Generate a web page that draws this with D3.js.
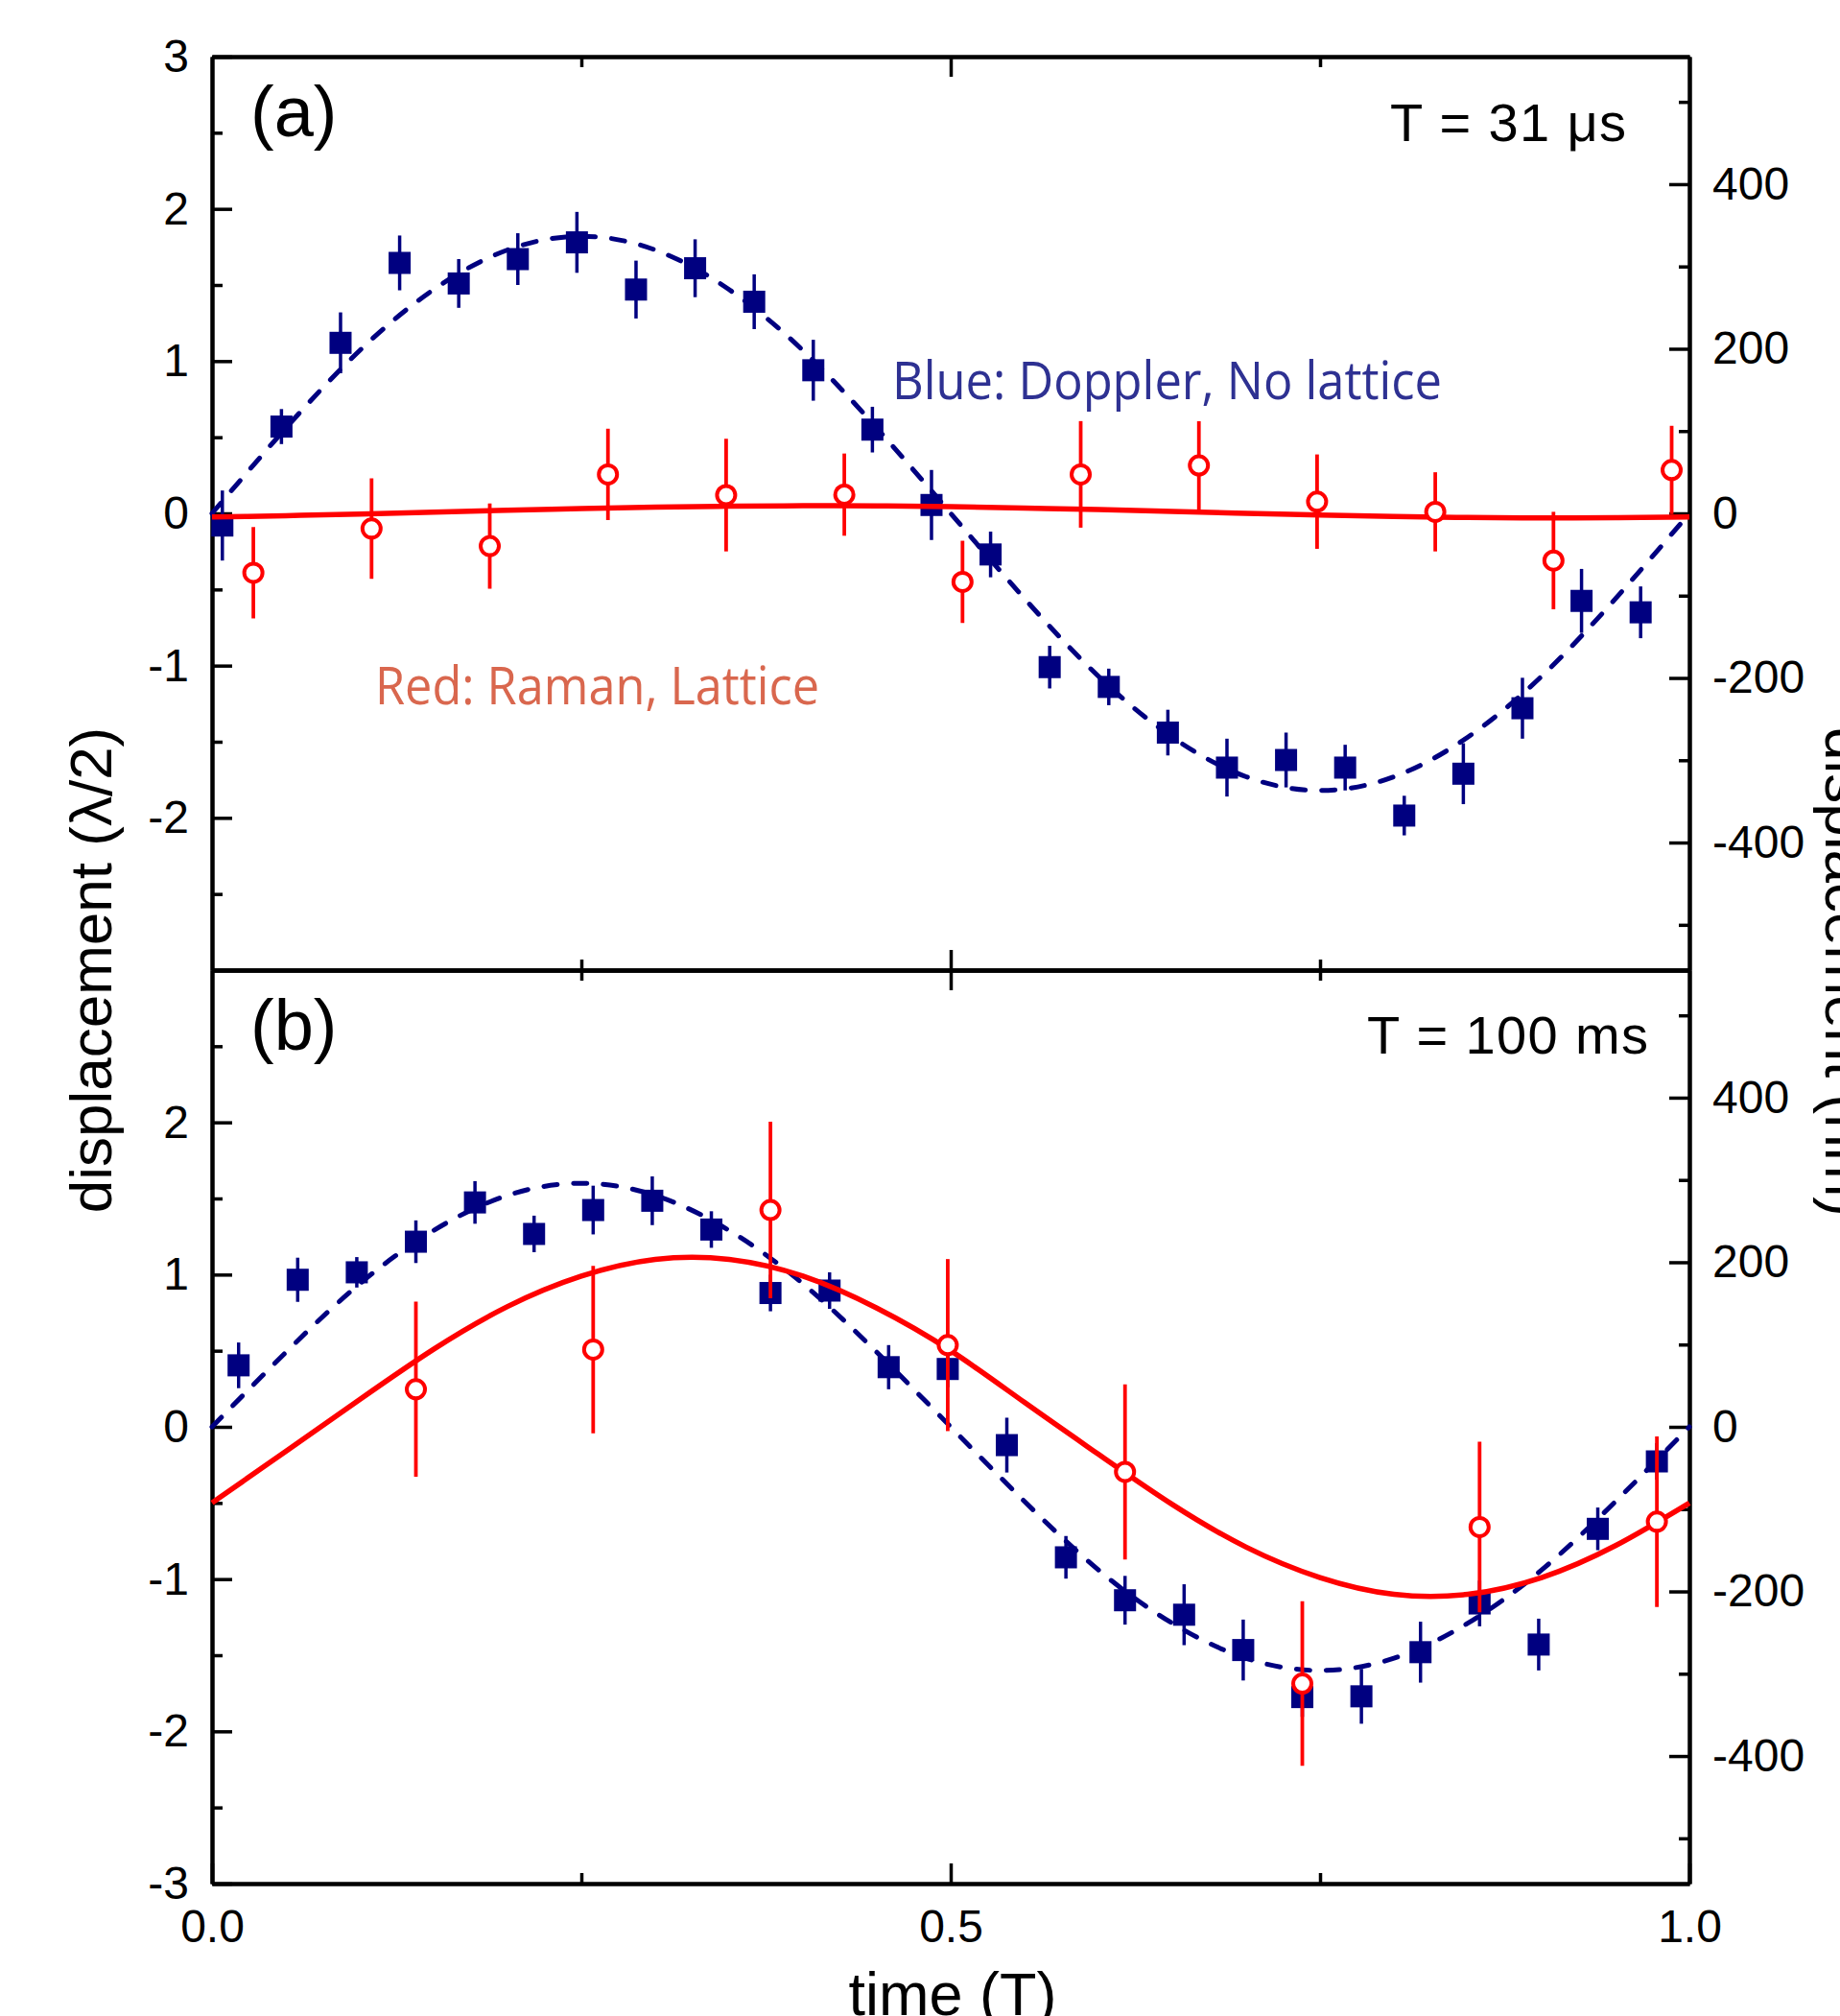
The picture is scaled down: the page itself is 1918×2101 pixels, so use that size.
<!DOCTYPE html>
<html>
<head>
<meta charset="utf-8">
<script src="https://cdn.jsdelivr.net/npm/d3@7"></script>
<style>
  body { margin: 0; background: #fff; }
  svg text { font-family: "Liberation Sans", Arial, sans-serif; }
</style>
</head>
<body>
<svg id="chart" width="1918" height="2101"></svg>
<script>
// ---- panel (a): T = 31 us ----
const blueTimeA = [0.007, 0.047, 0.087, 0.127, 0.167, 0.207, 0.247, 0.287, 0.327, 0.367, 0.407, 0.447, 0.487,
                   0.527, 0.567, 0.607, 0.647, 0.687, 0.727, 0.767, 0.807, 0.847, 0.887, 0.927, 0.967];
const blueValA = [-0.08, 0.57, 1.12, 1.645, 1.51, 1.67, 1.78, 1.47, 1.61, 1.39, 0.94, 0.55, 0.055,
                  -0.27, -1.01, -1.14, -1.44, -1.67, -1.62, -1.67, -1.985, -1.71, -1.28, -0.575, -0.65];
const blueErrA = [0.23, 0.115, 0.2, 0.18, 0.16, 0.17, 0.2, 0.19, 0.19, 0.18, 0.2, 0.15, 0.23,
                  0.15, 0.14, 0.12, 0.15, 0.19, 0.18, 0.15, 0.13, 0.2, 0.2, 0.21, 0.17];

const redTimeA = [0.028, 0.108, 0.188, 0.268, 0.348, 0.428, 0.508, 0.588, 0.668, 0.748, 0.828, 0.908, 0.988];
const redValA = [-0.39, -0.10, -0.215, 0.256, 0.12, 0.123, -0.45, 0.256, 0.315, 0.077, 0.01, -0.31, 0.285];
const redErrA = [0.3, 0.33, 0.28, 0.3, 0.37, 0.27, 0.27, 0.35, 0.29, 0.31, 0.26, 0.32, 0.29];

// ---- panel (b): T = 100 ms ----
const blueTimeB = [0.018, 0.058, 0.098, 0.138, 0.178, 0.218, 0.258, 0.298, 0.338, 0.378, 0.418, 0.458, 0.498,
                   0.538, 0.578, 0.618, 0.658, 0.698, 0.738, 0.778, 0.818, 0.858, 0.898, 0.938, 0.978];
const blueValB = [0.404, 0.966, 1.015, 1.216, 1.474, 1.267, 1.424, 1.485, 1.296, 0.879, 0.895, 0.392, 0.38,
                  -0.12, -0.857, -1.139, -1.234, -1.466, -1.775, -1.77, -1.48, -1.16, -1.43, -0.67, -0.227];
const blueErrB = [0.15, 0.145, 0.1, 0.14, 0.14, 0.12, 0.16, 0.16, 0.12, 0.12, 0.12, 0.145, 0.12,
                  0.18, 0.14, 0.16, 0.2, 0.2, 0.13, 0.18, 0.2, 0.15, 0.17, 0.14, 0.12];

const redTimeB = [0.138, 0.258, 0.378, 0.498, 0.618, 0.738, 0.858, 0.978];
const redValB = [0.247, 0.508, 1.424, 0.537, -0.296, -1.686, -0.658, -0.623];
const redErrB = [0.575, 0.55, 0.58, 0.565, 0.575, 0.54, 0.56, 0.56];

// fitted curves, every 0.05 T
const fitTime = [0, 0.05, 0.1, 0.15, 0.2, 0.25, 0.3, 0.35, 0.4, 0.45, 0.5,
                 0.55, 0.6, 0.65, 0.7, 0.75, 0.8, 0.85, 0.9, 0.95, 1];
const blueFitA = [0, 0.56, 1.07, 1.47, 1.73, 1.82, 1.73, 1.47, 1.07, 0.56, 0,
                  -0.56, -1.07, -1.47, -1.73, -1.82, -1.73, -1.47, -1.07, -0.56, 0];
const redFitA = [-0.024, -0.015, -0.005, 0.008, 0.02, 0.031, 0.041, 0.047, 0.05, 0.049, 0.044,
                 0.035, 0.025, 0.012, 0, -0.011, -0.021, -0.027, -0.03, -0.029, -0.024];
const blueFitB = [0, 0.49, 0.94, 1.29, 1.52, 1.6, 1.52, 1.29, 0.94, 0.49, 0,
                  -0.49, -0.94, -1.29, -1.52, -1.6, -1.52, -1.29, -0.94, -0.49, 0];
const redFitB = [-0.5, -0.16, 0.18, 0.51, 0.79, 0.99, 1.1, 1.1, 0.99, 0.78, 0.5,
                 0.16, -0.18, -0.51, -0.79, -0.99, -1.1, -1.1, -0.99, -0.78, -0.5];

// axis ticks
const xMajor = [0.5], xMinor = [0.25, 0.75], xLabels = [0, 0.5, 1];
const leftLabelsA = [-2, -1, 0, 1, 2, 3], leftLabelsB = [-3, -2, -1, 0, 1, 2];
const leftMinor = [-2.5, -1.5, -0.5, 0.5, 1.5, 2.5];
const rightMajor = [-400, -200, 0, 200, 400], rightMinor = [-500, -300, -100, 100, 300, 500];

const navy = "#000080", red = "#ff0000";
const plotLeft = 221, plotRight = 1761;

const svg = d3.select("#chart");

const x = d3.scaleLinear().domain([0, 1]).range([plotLeft, plotRight]);

function styleAxis(g) {
    g.select(".domain").attr("stroke", "#000").attr("stroke-width", 4);
    g.selectAll(".tick line").attr("stroke", "#000").attr("stroke-width", 3.5);
    g.selectAll(".tick text").attr("fill", "#000").style("font-size", "48px")
        .style("font-family", "'Liberation Sans', Arial, sans-serif");
}

function drawPanel(p) {
    let y = d3.scaleLinear().domain([-3, 3]).range([p.bottom, p.top]);
    let yR = d3.scaleLinear().domain([-555, 555]).range([p.bottom, p.top]);
    let g = svg.append("g");

    // left axis
    g.append("g").attr("transform", "translate(" + plotLeft + ",0)")
        .call(d3.axisLeft(y).tickValues(p.leftLabels).tickSize(-21).tickSizeOuter(0)
            .tickPadding(24).tickFormat(d => String(d)))
        .call(styleAxis);
    g.append("g").attr("transform", "translate(" + plotLeft + ",0)")
        .call(d3.axisLeft(y).tickValues(leftMinor).tickSize(-11).tickSizeOuter(0).tickFormat(""))
        .call(styleAxis);

    // right axis (nm)
    g.append("g").attr("transform", "translate(" + plotRight + ",0)")
        .call(d3.axisRight(yR).tickValues(rightMajor).tickSize(-21).tickSizeOuter(0)
            .tickPadding(24).tickFormat(d => String(d)))
        .call(styleAxis);
    g.append("g").attr("transform", "translate(" + plotRight + ",0)")
        .call(d3.axisRight(yR).tickValues(rightMinor).tickSize(-11).tickSizeOuter(0).tickFormat(""))
        .call(styleAxis);

    // top and bottom axes, ticks inside
    [[d3.axisTop, p.top], [d3.axisBottom, p.bottom]].forEach(function (a) {
        let showLabels = p.xLabels && a[0] === d3.axisBottom;
        g.append("g").attr("transform", "translate(0," + a[1] + ")")
            .call(a[0](x).tickValues(showLabels ? xLabels : xMajor).tickSize(-21).tickSizeOuter(0)
                .tickPadding(27).tickFormat(showLabels ? d3.format(".1f") : ""))
            .call(styleAxis);
        g.append("g").attr("transform", "translate(0," + a[1] + ")")
            .call(a[0](x).tickValues(xMinor).tickSize(-11).tickSizeOuter(0).tickFormat(""))
            .call(styleAxis);
    });

    let line = d3.line()
        .x(d => x(d[0]))
        .y(d => y(d[1]))
        .curve(d3.curveNatural);

    // blue: error bars, squares, fit
    let blue = d3.zip(p.blueTime, p.blueVal, p.blueErr);
    g.append("g").selectAll("line").data(blue).join("line")
        .attr("x1", d => x(d[0])).attr("x2", d => x(d[0]))
        .attr("y1", d => y(d[1] - d[2])).attr("y2", d => y(d[1] + d[2]))
        .attr("stroke", navy).attr("stroke-width", 3.5);
    g.append("g").selectAll("rect").data(blue).join("rect")
        .attr("x", d => x(d[0]) - 11.5).attr("y", d => y(d[1]) - 11.5)
        .attr("width", 23).attr("height", 23)
        .attr("fill", navy);
    g.append("path")
        .datum(d3.zip(fitTime, p.blueFit))
        .attr("fill", "none")
        .attr("stroke", navy)
        .attr("stroke-width", 5)
        .attr("stroke-linecap", "round")
        .style("stroke-dasharray", "14, 17")
        .attr("d", line);

    // red: fit, error bars, open circles
    g.append("path")
        .datum(d3.zip(fitTime, p.redFit))
        .attr("fill", "none")
        .attr("stroke", red)
        .attr("stroke-width", 5.5)
        .attr("d", line);
    let reds = d3.zip(p.redTime, p.redVal, p.redErr);
    g.append("g").selectAll("line").data(reds).join("line")
        .attr("x1", d => x(d[0])).attr("x2", d => x(d[0]))
        .attr("y1", d => y(d[1] - d[2])).attr("y2", d => y(d[1] + d[2]))
        .attr("stroke", red).attr("stroke-width", 3.8);
    g.append("g").selectAll("circle").data(reds).join("circle")
        .attr("cx", d => x(d[0])).attr("cy", d => y(d[1]))
        .attr("r", 9.5)
        .attr("fill", "#fff")
        .attr("stroke", red)
        .attr("stroke-width", 4);

    // panel letter and period
    g.append("text")
        .attr("x", 261).attr("y", p.top + 83)
        .style("font-size", "74px")
        .text(p.letter);
    g.append("text")
        .attr("x", p.periodX).attr("y", p.periodY)
        .attr("textLength", p.periodW)
        .style("font-size", "56px")
        .text(p.period);
}

drawPanel({top: 59, bottom: 1011, leftLabels: leftLabelsA, xLabels: false,
    blueTime: blueTimeA, blueVal: blueValA, blueErr: blueErrA, blueFit: blueFitA,
    redTime: redTimeA, redVal: redValA, redErr: redErrA, redFit: redFitA,
    letter: "(a)", period: "T = 31 \u03bcs", periodX: 1449, periodY: 147, periodW: 246});

drawPanel({top: 1011, bottom: 1963, leftLabels: leftLabelsB, xLabels: true,
    blueTime: blueTimeB, blueVal: blueValB, blueErr: blueErrB, blueFit: blueFitB,
    redTime: redTimeB, redVal: redValB, redErr: redErrB, redFit: redFitB,
    letter: "(b)", period: "T = 100 ms", periodX: 1425, periodY: 1098, periodW: 293});

// legend notes in panel (a)
svg.append("text")
    .attr("x", 930).attr("y", 416)
    .attr("textLength", 573).attr("lengthAdjust", "spacingAndGlyphs")
    .style("font-family", "'Open Sans', sans-serif")
    .style("font-size", "55px")
    .attr("fill", "#2e3192")
    .text("Blue: Doppler, No lattice");

svg.append("text")
    .attr("x", 391).attr("y", 734)
    .attr("textLength", 463).attr("lengthAdjust", "spacingAndGlyphs")
    .style("font-family", "'Open Sans', sans-serif")
    .style("font-size", "55px")
    .attr("fill", "#d9674e")
    .text("Red: Raman, Lattice");

// axis titles
svg.append("text")
    .attr("transform", "translate(116,1011) rotate(-90)")
    .attr("text-anchor", "middle")
    .style("font-size", "62px")
    .text("displacement (\u03bb/2)");

svg.append("text")
    .attr("transform", "translate(1903,1013) rotate(90)")
    .attr("text-anchor", "middle")
    .style("font-size", "62px")
    .text("displacement (nm)");

svg.append("text")
    .attr("x", 993).attr("y", 2100)
    .attr("text-anchor", "middle")
    .style("font-size", "63px")
    .text("time (T)");
</script>
</body>
</html>
